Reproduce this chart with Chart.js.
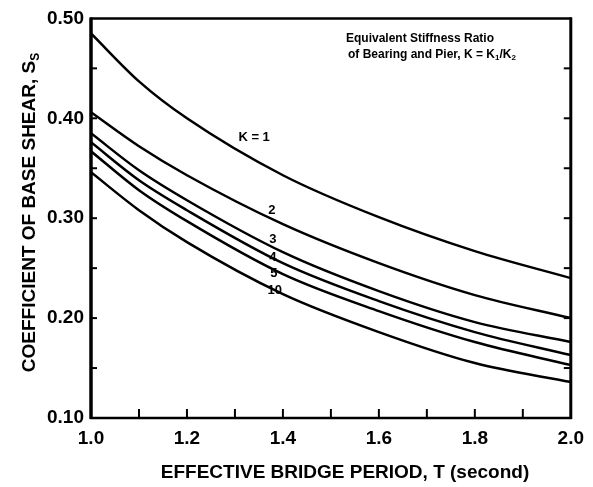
<!DOCTYPE html>
<html>
<head>
<meta charset="utf-8">
<script src="https://cdn.jsdelivr.net/npm/chart.js@4.4.1/dist/chart.umd.min.js"></script>
<style>
  html, body { margin: 0; padding: 0; background: #fff; }
  #wrap { width: 593px; height: 487px; }
</style>
</head>
<body>
<div id="wrap"><canvas id="baseShear" width="593" height="487"></canvas></div>
<script>
// effective bridge period T (s)
var periods = [1.0, 1.1, 1.2, 1.4, 1.6, 1.8, 2.0];

// coefficient of base shear for each stiffness ratio K
var shearK1  = [0.485, 0.437, 0.400, 0.343, 0.301, 0.267, 0.240];
var shearK2  = [0.406, 0.372, 0.343, 0.294, 0.255, 0.223, 0.200];
var shearK3  = [0.385, 0.348, 0.318, 0.266, 0.227, 0.196, 0.176];
var shearK4  = [0.376, 0.338, 0.308, 0.255, 0.217, 0.186, 0.163];
var shearK5  = [0.367, 0.328, 0.297, 0.244, 0.207, 0.176, 0.153];
var shearK10 = [0.346, 0.308, 0.276, 0.224, 0.186, 0.155, 0.136];

var curveNames = ['K = 1', '2', '3', '4', '5', '10'];
var curveValues = [shearK1, shearK2, shearK3, shearK4, shearK5, shearK10];

// where the curve names sit (T, S)
var nameT = [1.34, 1.377, 1.379, 1.379, 1.381, 1.383];
var nameS = [0.381, 0.308, 0.279, 0.261, 0.245, 0.228];

var boldFont = 'bold 19px "Liberation Sans", Arial, sans-serif';

function seg(ctx, x1, y1, x2, y2) {
    ctx.beginPath();
    ctx.moveTo(x1, y1);
    ctx.lineTo(x2, y2);
    ctx.stroke();
}

// text with a lowered, smaller part (for subscripts)
function subText(ctx, parts, x, y) {
    parts.forEach(function(p) {
        ctx.font = p.font;
        ctx.fillText(p.t, x, y + (p.dy || 0));
        x += ctx.measureText(p.t).width;
    });
}

const paperFrame = {
    id: 'paperFrame',
    afterDatasetsDraw: function(chart) {
        var ctx = chart.ctx;
        var a = chart.chartArea;
        var xs = chart.scales.x, ys = chart.scales.y;
        ctx.save();
        ctx.strokeStyle = '#000';
        ctx.fillStyle = '#000';
        ctx.lineCap = 'butt';

        // tick marks, pointing inward
        ctx.lineWidth = 2;
        ys.ticks.forEach(function(t) {
            var py = ys.getPixelForValue(t.value);
            if (t.value > 0.101 && t.value < 0.499) {
                seg(ctx, a.left, py, a.left + 6, py);
                seg(ctx, a.right - 7, py, a.right, py);
            }
        });
        xs.ticks.forEach(function(t) {
            var px = xs.getPixelForValue(t.value);
            if (t.value > 1.001 && t.value < 1.999) seg(ctx, px, a.bottom, px, a.bottom - 9);
        });

        // frame
        ctx.lineWidth = 2.5;
        seg(ctx, a.left - 1, a.top, a.right + 1, a.top);
        seg(ctx, a.left - 1, a.bottom, a.right + 1, a.bottom);
        ctx.lineWidth = 3.5;
        seg(ctx, a.left, a.top - 1, a.left, a.bottom + 1);
        ctx.lineWidth = 3;
        seg(ctx, a.right, a.top - 1, a.right, a.bottom + 1);

        // curve names
        ctx.font = 'bold 13px "Liberation Sans", Arial, sans-serif';
        ctx.textAlign = 'center';
        ctx.textBaseline = 'middle';
        curveNames.forEach(function(n, i) {
            ctx.fillText(n, xs.getPixelForValue(nameT[i]), ys.getPixelForValue(nameS[i]));
        });

        // key text
        ctx.textAlign = 'left';
        ctx.textBaseline = 'alphabetic';
        var kf = 'bold 12px "Liberation Sans", Arial, sans-serif';
        var ks = 'bold 8px "Liberation Sans", Arial, sans-serif';
        ctx.font = kf;
        ctx.fillText('Equivalent Stiffness Ratio', a.left + 255, a.top + 24);
        subText(ctx, [
            {t: 'of Bearing and Pier, K = K', font: kf},
            {t: '1', font: ks, dy: 2},
            {t: '/K', font: kf},
            {t: '2', font: ks, dy: 2}
        ], a.left + 257, a.top + 40);

        // axis titles
        ctx.font = boldFont;
        ctx.textAlign = 'center';
        ctx.textBaseline = 'alphabetic';
        ctx.fillText('EFFECTIVE BRIDGE PERIOD, T (second)', 345, 478);

        ctx.translate(35, 212);
        ctx.rotate(-Math.PI / 2);
        ctx.textAlign = 'left';
        var main = 'COEFFICIENT OF BASE SHEAR, S';
        ctx.font = boldFont;
        var w = ctx.measureText(main).width + 9;
        subText(ctx, [
            {t: main, font: boldFont},
            {t: 'S', font: 'bold 12px "Liberation Sans", Arial, sans-serif', dy: 4}
        ], -w / 2, 0);
        ctx.restore();
    }
};

var datasets = curveValues.map(function(vals, i) {
    return {
        label: curveNames[i],
        data: periods.map(function(t, j) { return {x: t, y: vals[j]}; }),
        borderColor: '#000',
        borderWidth: 2.5,
        pointRadius: 0,
        fill: false,
        cubicInterpolationMode: 'monotone'
    };
});

var ctxShear = document.getElementById('baseShear').getContext('2d');

var shearChart = new Chart(ctxShear, {
    type: 'line',
    data: { datasets: datasets },
    plugins: [paperFrame],
    options: {
        responsive: false,
        animation: false,
        layout: { padding: { top: 13, right: 20, left: 0, bottom: 0 } },
        plugins: {
            legend: { display: false },
            tooltip: { enabled: false }
        },
        scales: {
            x: {
                type: 'linear',
                min: 1.0,
                max: 2.0,
                grid: { display: false, drawTicks: false },
                border: { display: false },
                afterFit: function(s) { s.height = 69; },
                ticks: {
                    stepSize: 0.1,
                    autoSkip: false,
                    maxRotation: 0,
                    padding: 9,
                    color: '#000',
                    font: { family: '"Liberation Sans", Arial, sans-serif', size: 19, weight: 'bold' },
                    callback: function(v) {
                        var k = Math.round(v * 10);
                        return k % 2 === 0 ? (k / 10).toFixed(1) : '';
                    }
                }
            },
            y: {
                min: 0.1,
                max: 0.5,
                grid: { display: false, drawTicks: false },
                border: { display: false },
                afterFit: function(s) { s.width = 91; },
                ticks: {
                    stepSize: 0.05,
                    autoSkip: false,
                    padding: 7,
                    color: '#000',
                    font: { family: '"Liberation Sans", Arial, sans-serif', size: 19, weight: 'bold' },
                    callback: function(v) {
                        var k = Math.round(v * 20);
                        return k % 2 === 0 ? (k / 20).toFixed(2) : '';
                    }
                }
            }
        }
    }
});
</script>
</body>
</html>
